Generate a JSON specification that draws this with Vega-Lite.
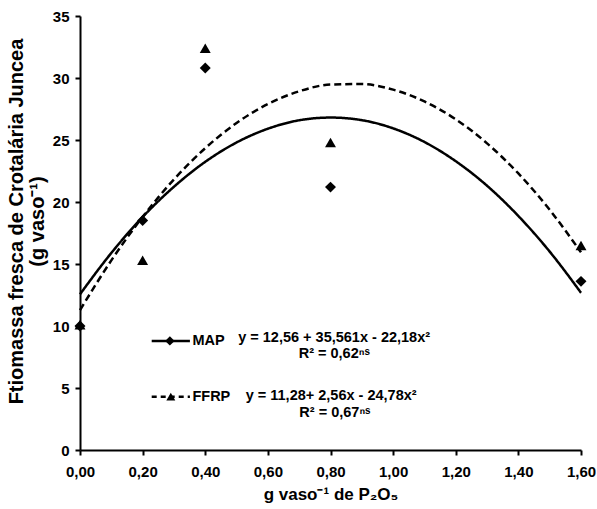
{
  "$schema": "https://vega.github.io/schema/vega-lite/v6.json",
  "width": 501,
  "height": 434,
  "autosize": {"type": "none"},
  "padding": {"left": 80, "top": 16, "right": 16, "bottom": 59},
  "background": "white",
  "config": {
    "view": {"stroke": null},
    "font": "Liberation Sans",
    "locale": {"number": {"decimal": ",", "thousands": ".", "grouping": [3], "currency": ["", ""]}},
    "axis": {
      "domainColor": "black", "domainWidth": 2, "tickColor": "black", "tickWidth": 2, "tickSize": 5,
      "labelColor": "black", "labelFont": "Liberation Sans", "labelFontSize": 15, "labelFontWeight": "bold",
      "titleColor": "black", "titleFont": "Liberation Sans", "titleFontSize": 17, "titleFontWeight": "bold",
      "grid": false
    }
  },
  "datasets": {
    "obs": [
      {"serie": "MAP", "dose": 0.0, "massa": 10.0},
      {"serie": "MAP", "dose": 0.2, "massa": 18.5},
      {"serie": "MAP", "dose": 0.4, "massa": 30.8},
      {"serie": "MAP", "dose": 0.8, "massa": 21.2},
      {"serie": "MAP", "dose": 1.6, "massa": 13.6},
      {"serie": "FFRP", "dose": 0.0, "massa": 10.1},
      {"serie": "FFRP", "dose": 0.2, "massa": 15.3},
      {"serie": "FFRP", "dose": 0.4, "massa": 32.4},
      {"serie": "FFRP", "dose": 0.8, "massa": 24.8},
      {"serie": "FFRP", "dose": 1.6, "massa": 16.5}
    ],
    "fit": [
      {"serie": "MAP", "dose": 0.0, "massa": 12.56},
      {"serie": "MAP", "dose": 0.1, "massa": 15.89},
      {"serie": "MAP", "dose": 0.2, "massa": 18.79},
      {"serie": "MAP", "dose": 0.3, "massa": 21.23},
      {"serie": "MAP", "dose": 0.4, "massa": 23.24},
      {"serie": "MAP", "dose": 0.5, "massa": 24.80},
      {"serie": "MAP", "dose": 0.6, "massa": 25.91},
      {"serie": "MAP", "dose": 0.7, "massa": 26.59},
      {"serie": "MAP", "dose": 0.8, "massa": 26.81},
      {"serie": "MAP", "dose": 0.9, "massa": 26.60},
      {"serie": "MAP", "dose": 1.0, "massa": 25.94},
      {"serie": "MAP", "dose": 1.1, "massa": 24.84},
      {"serie": "MAP", "dose": 1.2, "massa": 23.29},
      {"serie": "MAP", "dose": 1.3, "massa": 21.31},
      {"serie": "MAP", "dose": 1.4, "massa": 18.87},
      {"serie": "MAP", "dose": 1.5, "massa": 16.00},
      {"serie": "MAP", "dose": 1.6, "massa": 12.68},
      {"serie": "FFRP", "dose": 0.0, "massa": 11.28},
      {"serie": "FFRP", "dose": 0.1, "massa": 15.29},
      {"serie": "FFRP", "dose": 0.2, "massa": 18.80},
      {"serie": "FFRP", "dose": 0.3, "massa": 21.82},
      {"serie": "FFRP", "dose": 0.4, "massa": 24.34},
      {"serie": "FFRP", "dose": 0.5, "massa": 26.37},
      {"serie": "FFRP", "dose": 0.6, "massa": 27.90},
      {"serie": "FFRP", "dose": 0.7, "massa": 28.93},
      {"serie": "FFRP", "dose": 0.8, "massa": 29.47},
      {"serie": "FFRP", "dose": 0.9, "massa": 29.51},
      {"serie": "FFRP", "dose": 1.0, "massa": 29.06},
      {"serie": "FFRP", "dose": 1.1, "massa": 28.11},
      {"serie": "FFRP", "dose": 1.2, "massa": 26.67},
      {"serie": "FFRP", "dose": 1.3, "massa": 24.73},
      {"serie": "FFRP", "dose": 1.4, "massa": 22.30},
      {"serie": "FFRP", "dose": 1.5, "massa": 19.37},
      {"serie": "FFRP", "dose": 1.6, "massa": 15.94}
    ]
  },
  "encoding": {
    "x": {
      "type": "quantitative",
      "scale": {"domain": [0, 1.6], "nice": false, "zero": false},
      "axis": {
        "values": [0, 0.2, 0.4, 0.6, 0.8, 1.0, 1.2, 1.4, 1.6],
        "format": ".2f",
        "labelFlush": false,
        "labelPadding": 9,
        "title": "g vaso⁻¹ de P₂O₅",
        "titlePadding": 7
      }
    },
    "y": {
      "type": "quantitative",
      "scale": {"domain": [0, 35], "nice": false},
      "axis": {
        "values": [0, 5, 10, 15, 20, 25, 30, 35],
        "format": "d",
        "labelFlush": false,
        "labelPadding": 6,
        "title": ["Ftiomassa fresca de Crotalária Juncea", "(g vaso⁻¹)"],
        "titleFontSize": 20,
        "titleLineHeight": 21,
        "titleY": 205,
        "titlePadding": 5
      }
    }
  },
  "layer": [
    {
      "data": {"name": "fit"},
      "mark": {"type": "line", "interpolate": "monotone", "strokeWidth": 2.5, "color": "black"},
      "encoding": {
        "x": {"field": "dose", "type": "quantitative"},
        "y": {"field": "massa", "type": "quantitative"},
        "detail": {"field": "serie"},
        "strokeDash": {
          "field": "serie", "type": "nominal",
          "scale": {"domain": ["MAP", "FFRP"], "range": [[1, 0], [7, 4]]},
          "legend": null
        }
      }
    },
    {
      "data": {"name": "obs"},
      "mark": {"type": "point", "filled": true, "color": "black", "opacity": 1, "size": 120},
      "encoding": {
        "x": {"field": "dose", "type": "quantitative"},
        "y": {"field": "massa", "type": "quantitative"},
        "shape": {
          "field": "serie", "type": "nominal",
          "scale": {"domain": ["MAP", "FFRP"], "range": ["diamond", "triangle-up"]},
          "legend": null
        }
      }
    },
    {
      "data": {"values": [{}]},
      "mark": {"type": "rule", "color": "black", "strokeWidth": 2.5},
      "encoding": {"x": {"datum": 0.229}, "x2": {"datum": 0.351}, "y": {"datum": 8.8}}
    },
    {
      "data": {"values": [{}]},
      "mark": {"type": "rule", "color": "black", "strokeWidth": 2.5, "strokeDash": [5, 4]},
      "encoding": {"x": {"datum": 0.229}, "x2": {"datum": 0.351}, "y": {"datum": 4.30}}
    },
    {
      "data": {"values": [{}]},
      "mark": {"type": "point", "filled": true, "color": "black", "opacity": 1, "size": 90, "shape": "diamond"},
      "encoding": {"x": {"datum": 0.287}, "y": {"datum": 8.8}}
    },
    {
      "data": {"values": [{}]},
      "mark": {"type": "point", "filled": true, "color": "black", "opacity": 1, "size": 80, "shape": "triangle-up"},
      "encoding": {"x": {"datum": 0.290}, "y": {"datum": 4.30}}
    },
    {
      "data": {"values": [{}]},
      "mark": {"type": "text", "text": "MAP", "align": "left", "baseline": "middle", "fontSize": 14.5, "fontWeight": "bold", "color": "black"},
      "encoding": {"x": {"datum": 0.359}, "y": {"datum": 8.8}}
    },
    {
      "data": {"values": [{}]},
      "mark": {"type": "text", "text": "FFRP", "align": "left", "baseline": "middle", "fontSize": 14.5, "fontWeight": "bold", "color": "black"},
      "encoding": {"x": {"datum": 0.359}, "y": {"datum": 4.30}}
    },
    {
      "data": {"values": [{}]},
      "mark": {"type": "text", "text": "y = 12,56 + 35,561x - 22,18x²", "align": "right", "baseline": "middle", "fontSize": 14.5, "fontWeight": "bold", "color": "black"},
      "encoding": {"x": {"datum": 1.118}, "y": {"datum": 9.0}}
    },
    {
      "data": {"values": [{}]},
      "mark": {"type": "text", "text": "R² = 0,62ⁿˢ", "align": "right", "baseline": "middle", "fontSize": 14.5, "fontWeight": "bold", "color": "black"},
      "encoding": {"x": {"datum": 0.926}, "y": {"datum": 7.75}}
    },
    {
      "data": {"values": [{}]},
      "mark": {"type": "text", "text": "y = 11,28+ 2,56x - 24,78x²", "align": "right", "baseline": "middle", "fontSize": 14.5, "fontWeight": "bold", "color": "black"},
      "encoding": {"x": {"datum": 1.075}, "y": {"datum": 4.35}}
    },
    {
      "data": {"values": [{}]},
      "mark": {"type": "text", "text": "R² = 0,67ⁿˢ", "align": "right", "baseline": "middle", "fontSize": 14.5, "fontWeight": "bold", "color": "black"},
      "encoding": {"x": {"datum": 0.928}, "y": {"datum": 3.0}}
    }
  ]
}
